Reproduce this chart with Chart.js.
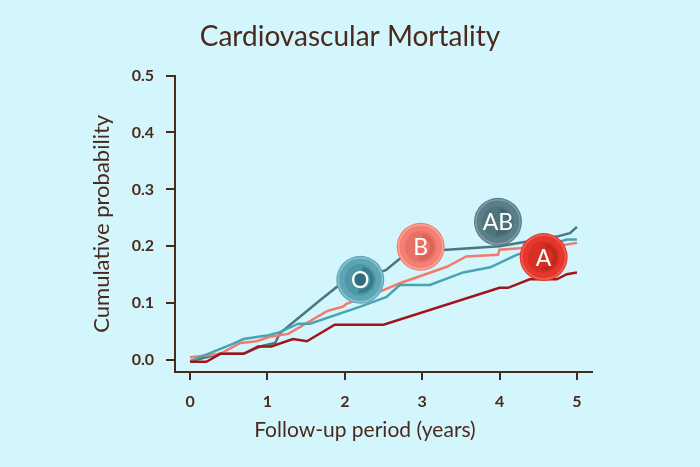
<!DOCTYPE html>
<html>
<head>
<meta charset="utf-8">
<script src="https://cdn.jsdelivr.net/npm/chart.js@4.4.1/dist/chart.umd.min.js"></script>
<style>
  html, body { margin: 0; padding: 0; background: #d3f6fc; }
  #wrap { width: 700px; height: 467px; }
</style>
</head>
<body>
<div id="wrap"><canvas id="chart" width="700" height="467"></canvas></div>
<script>
// --- data ---
const xTicks = [0, 1, 2, 3, 4, 5];
const yTicks = [0, 0.1, 0.2, 0.3, 0.4, 0.5];

const yearsA = [0, 0.21, 0.39, 0.69, 0.88, 1.05, 1.33, 1.51, 1.87, 2.5, 4.0, 4.11, 4.39, 4.74, 4.87, 5.0];
const probA  = [-0.003, -0.003, 0.011, 0.011, 0.024, 0.024, 0.037, 0.033, 0.062, 0.062, 0.127, 0.127, 0.142, 0.142, 0.151, 0.154];

const yearsB = [0, 0.21, 0.39, 0.65, 0.86, 1.03, 1.27, 1.77, 1.98, 2.02, 2.5, 2.71, 3.32, 3.57, 3.98, 4.0, 4.22, 4.87, 5.0];
const probB  = [0.005, 0.008, 0.011, 0.030, 0.033, 0.041, 0.046, 0.086, 0.094, 0.099, 0.123, 0.135, 0.164, 0.182, 0.185, 0.194, 0.196, 0.203, 0.206];

const yearsAB = [0, 0.39, 0.69, 0.93, 1.10, 1.16, 1.68, 1.90, 2.53, 2.69, 2.85, 3.32, 4.0, 4.74, 4.91, 5.0];
const probAB  = [-0.002, 0.011, 0.011, 0.025, 0.030, 0.047, 0.105, 0.129, 0.158, 0.176, 0.190, 0.194, 0.200, 0.217, 0.223, 0.234];

const yearsO = [0, 0.56, 0.69, 0.99, 1.16, 1.40, 1.55, 2.2, 2.54, 2.71, 3.10, 3.53, 3.88, 4.22, 4.87, 5.0];
const probO  = [-0.002, 0.029, 0.037, 0.043, 0.049, 0.064, 0.064, 0.094, 0.111, 0.132, 0.132, 0.154, 0.163, 0.185, 0.212, 0.212];

// blood cell badges (label positions in data units)
const cellLabels = ['O', 'B', 'AB', 'A'];
const cellX = [2.20, 2.98, 3.98, 4.57];
const cellY = [0.141, 0.199, 0.243, 0.181];

const X_TITLE = 'Follow-up period (years)';
const BROWN = '#4b2a1d';
const cellStyle = {
    O:  { base: '#5ea6b5', rim: '#86c3cf', inner: '#4f97a6', swirl: '#2f6f7e' },
    B:  { base: '#f47f72', rim: '#f9a597', inner: '#e87064', swirl: '#d65f56' },
    AB: { base: '#5b7f88', rim: '#7f9ca4', inner: '#50747d', swirl: '#40626b' },
    A:  { base: '#e5372c', rim: '#f25f52', inner: '#d62f25', swirl: '#b8231a' }
};

const pts = (xs, ys) => xs.map((x, i) => ({ x: x, y: ys[i] }));

const bgPlugin = {
    id: 'bg',
    beforeDraw(chart) {
        const ctx = chart.ctx;
        ctx.save();
        ctx.fillStyle = '#d3f6fc';
        ctx.fillRect(0, 0, chart.width, chart.height);
        ctx.restore();
    }
};

// x title sits a little left of the plot centre in the original, so draw it here
const xTitlePlugin = {
    id: 'xTitle',
    afterDraw(chart) {
        const ctx = chart.ctx;
        const xs = chart.scales.x;
        ctx.save();
        ctx.fillStyle = BROWN;
        ctx.font = '21px Lato';
        ctx.textAlign = 'center';
        ctx.textBaseline = 'middle';
        ctx.fillText(X_TITLE, xs.getPixelForValue(2.26), xs.bottom - 37);
        ctx.restore();
    }
};

const cellPlugin = {
    id: 'cells',
    afterDatasetsDraw(chart) {
        const ctx = chart.ctx;
        const xs = chart.scales.x, ys = chart.scales.y;
        const r = 24;
        cellLabels.forEach((lab, i) => {
            const s = cellStyle[lab];
            const cx = xs.getPixelForValue(cellX[i]);
            const cy = ys.getPixelForValue(cellY[i]);
            ctx.save();
            // disc
            ctx.beginPath();
            ctx.arc(cx, cy, r, 0, Math.PI * 2);
            ctx.fillStyle = s.base;
            ctx.fill();
            // light rim
            ctx.beginPath();
            ctx.arc(cx, cy, r - 2, 0, Math.PI * 2);
            ctx.strokeStyle = s.rim;
            ctx.lineWidth = 1.5;
            ctx.stroke();
            // concave centre
            ctx.beginPath();
            ctx.arc(cx, cy, r * 0.66, 0, Math.PI * 2);
            ctx.fillStyle = s.inner;
            ctx.fill();
            // swirl
            ctx.beginPath();
            ctx.arc(cx, cy, r * 0.48, -Math.PI * 0.45, Math.PI * 0.55);
            ctx.strokeStyle = s.swirl;
            ctx.lineWidth = 4;
            ctx.globalAlpha = 0.7;
            ctx.stroke();
            ctx.globalAlpha = 1;
            if (lab === 'O') {
                ctx.beginPath();
                ctx.arc(cx, cy + 1, 7, 0, Math.PI * 2);
                ctx.fillStyle = '#2f6f7e';
                ctx.fill();
            }
            ctx.fillStyle = '#ffffff';
            ctx.font = '23px Lato';
            ctx.textAlign = 'center';
            ctx.textBaseline = 'middle';
            ctx.fillText(lab, cx, cy + 1);
            ctx.restore();
        });
    }
};

const lineDs = (label, xs, ys, color) => ({
    label: label,
    data: pts(xs, ys),
    borderColor: color,
    backgroundColor: color,
    borderWidth: 2.5,
    pointRadius: 0,
    tension: 0,
    fill: false
});

Chart.defaults.font.family = 'Lato';
Chart.defaults.color = BROWN;

new Chart(document.getElementById('chart'), {
    type: 'line',
    data: {
        datasets: [
            lineDs('A', yearsA, probA, '#a3141a'),
            lineDs('O', yearsO, probO, '#4aa3b0'),
            lineDs('B', yearsB, probB, '#f27b6e'),
            lineDs('AB', yearsAB, probAB, '#4a7680')
        ]
    },
    options: {
        responsive: false,
        animation: false,
        layout: { padding: { left: 54, right: 54, top: 0, bottom: 0 } },
        plugins: {
            legend: { display: false },
            tooltip: { enabled: false },
            title: {
                display: true,
                text: 'Cardiovascular Mortality',
                color: BROWN,
                font: { size: 28, weight: 'normal' },
                padding: { top: 20, bottom: 22 }
            }
        },
        scales: {
            x: {
                type: 'linear',
                min: -0.195,
                max: 5.195,
                afterBuildTicks: s => { s.ticks = xTicks.map(v => ({ value: v })); },
                afterFit: s => { s.height = 95; },
                grid: { drawOnChartArea: false, drawTicks: true, tickLength: 8, color: BROWN, lineWidth: 2 },
                border: { display: true, color: BROWN, width: 2 },
                ticks: { padding: 12, color: BROWN, font: { size: 16, weight: 'bold' }, callback: v => String(v) },
                title: { display: false }
            },
            y: {
                type: 'linear',
                min: -0.021,
                max: 0.5,
                afterBuildTicks: s => { s.ticks = yTicks.map(v => ({ value: v })); },
                afterFit: s => { s.width = 121; },
                grid: { drawOnChartArea: false, drawTicks: true, tickLength: 9, color: BROWN, lineWidth: 2 },
                border: { display: true, color: BROWN, width: 2 },
                ticks: { padding: 12, color: BROWN, font: { size: 16, weight: 'bold' }, callback: v => v.toFixed(1) },
                title: {
                    display: true,
                    text: 'Cumulative probability',
                    color: BROWN,
                    font: { size: 22 },
                    padding: { top: 35, bottom: 0 }
                }
            },
            // empty spacer on the right so the plot ends where the reference's does
            spacer: {
                type: 'linear',
                position: 'right',
                display: true,
                afterFit: s => { s.width = 54; },
                grid: { display: false },
                border: { display: false },
                ticks: { display: false }
            }
        }
    },
    plugins: [bgPlugin, cellPlugin, xTitlePlugin]
});
</script>
</body>
</html>
